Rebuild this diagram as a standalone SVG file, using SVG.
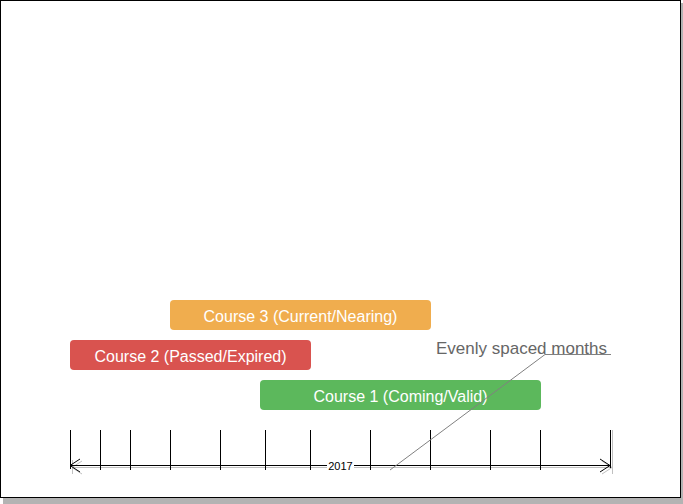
<svg xmlns="http://www.w3.org/2000/svg" width="683" height="504" viewBox="0 0 683 504">
<defs>
<style>
.bar{stroke:none}
.lbl{font-family:"Liberation Sans",Arial,sans-serif;font-size:16px;fill:#ffffff;text-anchor:middle}
.tick{stroke:#000;stroke-width:1}
.axis{stroke:#000;stroke-width:1;fill:none}
.shadowline{stroke:#c0c0c0;stroke-width:1;fill:none}
.note{font-family:"Liberation Sans",Arial,sans-serif;font-size:17px;fill:#666666}
.lead{stroke:#808080;stroke-width:1;fill:none}
</style>
</defs>
<rect x="3" y="3" width="680" height="501" fill="#b3b3b3"/>
<rect x="0.5" y="0.5" width="680" height="497" fill="#ffffff" stroke="#000" stroke-width="1"/>

<g id="course3">
<rect class="bar" x="170" y="300" width="261" height="30" rx="4" fill="#F0AD4E"/>
<text class="lbl" x="300.5" y="322">Course 3 (Current/Nearing)</text>
</g>
<g id="course2">
<rect class="bar" x="70" y="340" width="241" height="30" rx="4" fill="#D9534F"/>
<text class="lbl" x="190.5" y="362">Course 2 (Passed/Expired)</text>
</g>
<g id="course1">
<rect class="bar" x="260" y="380" width="281" height="30" rx="4" fill="#5CB85C"/>
<text class="lbl" x="400.5" y="402">Course 1 (Coming/Valid)</text>
</g>

<g id="timeline">
<path class="shadowline" d="M72.5 460V474 M612.5 430V474 M72 467.5H612 M82 461L72 467.5L82 474 M602 461L612 467.5L602 474"/>
<path class="tick" d="M70.5 430V469 M100.5 430V470 M130.5 430V470 M170.5 430V470 M220.5 430V470 M265.5 430V470 M310.5 430V470 M370.5 430V470 M430.5 430V470 M490.5 430V470 M540.5 430V470 M610.5 430V468"/>
<path class="axis" d="M70 465.5H610 M80 459L70 465.5L80 472 M600 459L610 465.5L600 472"/>
<rect x="327" y="460" width="27" height="11" fill="#ffffff"/>
<text x="340.5" y="469.5" font-family="Liberation Sans,Arial,sans-serif" font-size="11" fill="#000" text-anchor="middle">2017</text>
</g>

<g id="connectors">
<path class="lead" d="M611 354.5H545L390 470"/>
</g>
<g id="note">
<text class="note" x="436" y="354">Evenly spaced months</text>
</g>
</svg>
